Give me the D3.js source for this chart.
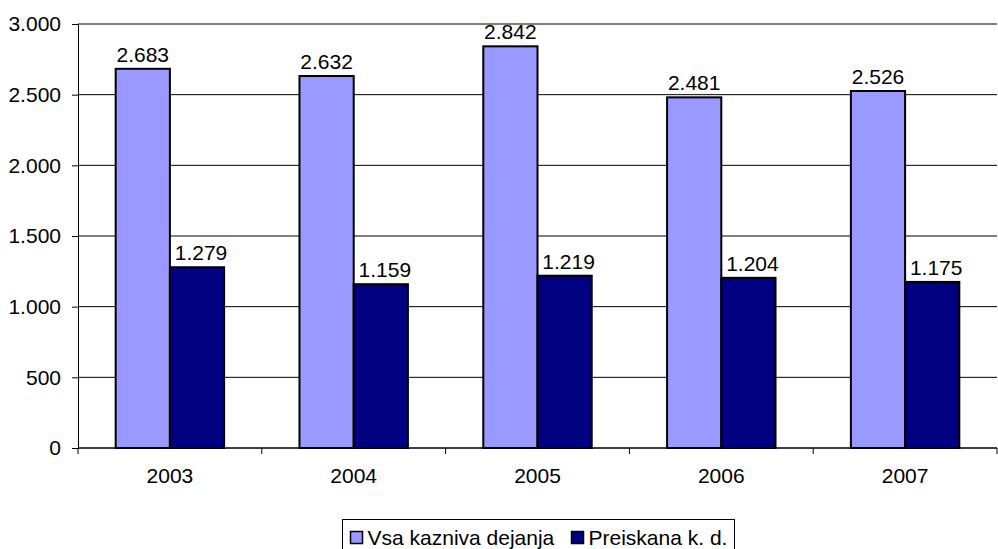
<!DOCTYPE html>
<html>
<head>
<meta charset="utf-8">
<script src="https://cdn.jsdelivr.net/npm/d3@7"></script>
<style>
  body { margin: 0; background: #fff; }
  text { font-family: "Liberation Sans", Arial, sans-serif; fill: #000; }
</style>
</head>
<body>
<div id="chart"></div>
<script>
// Chart data
const years = ['2003', '2004', '2005', '2006', '2007'];
const vsaKazniva = [2683, 2632, 2842, 2481, 2526];
const preiskana = [1279, 1159, 1219, 1204, 1175];
const seriesNames = ['Vsa kazniva dejanja', 'Preiskana k. d.'];
const seriesColors = ['#9999FF', '#000080'];
const yTicks = [0, 500, 1000, 1500, 2000, 2500, 3000];

const width = 998, height = 549;
const plot = { left: 78, right: 997, top: 24, bottom: 448 };
const fontSize = '21px';

// Slovene number format: dot as thousands separator
const fmt = d3.formatLocale({ decimal: ',', thousands: '.', grouping: [3], currency: ['', ''] }).format(',d');

let svg = d3.select('#chart').append('svg')
    .attr('width', width)
    .attr('height', height);

let xScale = d3.scaleBand()
    .domain(years)
    .range([plot.left, plot.right])
    .paddingInner(0.41)
    .paddingOuter(0.205);

let yScale = d3.scaleLinear()
    .domain([0, 3000])
    .range([plot.bottom, plot.top]);

// Gridlines
svg.append('g')
    .selectAll('line')
    .data(yTicks.filter(d => d > 0))
    .enter()
    .append('line')
    .attr('x1', plot.left).attr('x2', plot.right)
    .attr('y1', d => yScale(d)).attr('y2', d => yScale(d))
    .attr('stroke', '#000').attr('stroke-width', 1);

// Y axis
let yAxis = svg.append('g')
    .attr('transform', `translate(${plot.left},0)`)
    .call(d3.axisLeft(yScale).tickValues(yTicks).tickFormat(fmt).tickSize(6).tickPadding(11));
yAxis.select('.domain').attr('stroke', '#000');
yAxis.selectAll('text').style('font-size', fontSize).attr('font-family', null);

// X axis with ticks at category boundaries
svg.append('line')
    .attr('x1', plot.left).attr('x2', plot.right)
    .attr('y1', plot.bottom).attr('y2', plot.bottom)
    .attr('stroke', '#000').attr('stroke-width', 1.5);

let boundaries = d3.range(years.length + 1).map(i => plot.left + i * (plot.right - plot.left) / years.length);
svg.append('g')
    .selectAll('line')
    .data(boundaries)
    .enter()
    .append('line')
    .attr('x1', d => d).attr('x2', d => d)
    .attr('y1', plot.bottom).attr('y2', plot.bottom + 6)
    .attr('stroke', '#000');

svg.append('g')
    .selectAll('text')
    .data(years)
    .enter()
    .append('text')
    .attr('x', d => xScale(d) + xScale.bandwidth() / 2)
    .attr('y', 483)
    .attr('text-anchor', 'middle')
    .style('font-size', fontSize)
    .text(d => d);

// Bars
let sub = d3.scaleBand()
    .domain([0, 1])
    .range([0, xScale.bandwidth()]);

let series = [vsaKazniva, preiskana];
series.forEach((values, s) => {
    let g = svg.append('g');
    g.selectAll('rect')
        .data(values)
        .enter()
        .append('rect')
        .attr('x', (d, i) => xScale(years[i]) + sub(s))
        .attr('y', d => yScale(d))
        .attr('width', sub.bandwidth())
        .attr('height', d => plot.bottom - yScale(d))
        .attr('fill', seriesColors[s])
        .attr('stroke', '#000')
        .attr('stroke-width', 2);

    g.selectAll('text')
        .data(values)
        .enter()
        .append('text')
        .attr('x', (d, i) => xScale(years[i]) + sub(s) + sub.bandwidth() / 2 + (s ? 4 : 0))
        .attr('y', d => yScale(d) - 7)
        .attr('text-anchor', 'middle')
        .style('font-size', fontSize)
        .text(d => fmt(d));
});

// Legend
let legend = svg.append('g');
legend.append('rect')
    .attr('x', 342.5).attr('y', 519.5)
    .attr('width', 392).attr('height', 40)
    .attr('fill', '#fff').attr('stroke', '#000');

let legendX = [350.5, 571.5];
seriesNames.forEach((name, s) => {
    legend.append('rect')
        .attr('x', legendX[s]).attr('y', 531.5)
        .attr('width', 12).attr('height', 12)
        .attr('fill', seriesColors[s])
        .attr('stroke', '#000').attr('stroke-width', 1.5);
    legend.append('text')
        .attr('x', legendX[s] + 17).attr('y', 545)
        .style('font-size', fontSize)
        .text(name);
});
</script>
</body>
</html>
